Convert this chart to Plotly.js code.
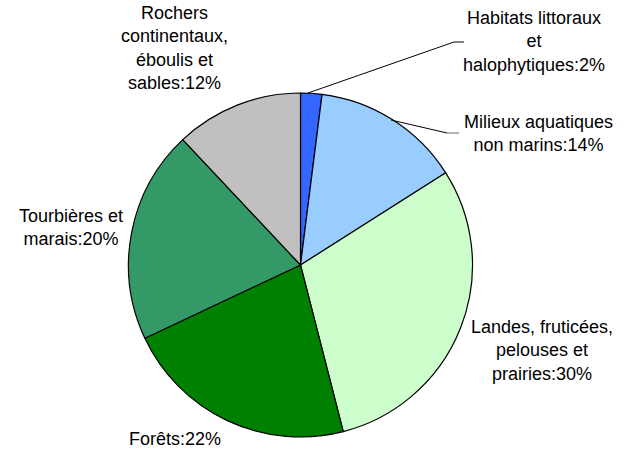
<!DOCTYPE html>
<html>
<head>
<meta charset="utf-8">
<script src="https://cdn.plot.ly/plotly-3.0.1.min.js"></script>
<style>html,body{margin:0;padding:0;background:#fff;}#chart{width:632px;height:450px;}</style>
</head>
<body>
<div id="chart"></div>
<script>
// Data
const categories = [
  "Habitats littoraux<br>et<br>halophytiques",
  "Milieux aquatiques<br>non marins",
  "Landes, fruticées,<br>pelouses et<br>prairies",
  "Forêts",
  "Tourbières et<br>marais",
  "Rochers<br>continentaux,<br>éboulis et<br>sables"
];
const values = [2, 14, 30, 22, 20, 12];
const colors = ["#3366FF", "#99CCFF", "#CCFFCC", "#008000", "#339966", "#C0C0C0"];

// Label placement (pixel centres)
const labelX = [534, 538, 542, 175, 71, 174];
const labelY = [41, 133, 350, 439, 227, 48];

const W = 632, H = 450;
const px = x => x / W;
const py = y => 1 - y / H;

const trace = {
  type: "pie",
  values: values,
  labels: categories.map(c => c.replace(/<br>/g, " ")),
  marker: { colors: colors, line: { color: "#000000", width: 1.2 } },
  sort: false,
  direction: "clockwise",
  rotation: 0,
  textinfo: "none",
  hoverinfo: "label+percent",
  showlegend: false,
  domain: { x: [px(128.5), px(472.5)], y: [py(437), py(93)] }
};

const font = { family: "Liberation Sans, Arial, sans-serif", size: 18, color: "#000000" };

const annotations = categories.map((c, i) => ({
  xref: "paper", yref: "paper",
  x: px(labelX[i]), y: py(labelY[i]),
  xanchor: "center", yanchor: "middle",
  text: c + ":" + values[i] + "%",
  showarrow: false,
  align: "center",
  font: font
}));

const shapes = [
  { type: "line", xref: "paper", yref: "paper", x0: px(308), y0: py(93), x1: px(454), y1: py(42), line: { color: "#000", width: 1 } },
  { type: "line", xref: "paper", yref: "paper", x0: px(454), y0: py(42), x1: px(464), y1: py(42), line: { color: "#000", width: 1 } },
  { type: "line", xref: "paper", yref: "paper", x0: px(391), y0: py(120), x1: px(447), y1: py(133), line: { color: "#000", width: 1 } },
  { type: "line", xref: "paper", yref: "paper", x0: px(447), y0: py(133), x1: px(459), y1: py(133), line: { color: "#666", width: 1 } }
];

const layout = {
  width: W, height: H,
  margin: { l: 0, r: 0, t: 0, b: 0 },
  paper_bgcolor: "#ffffff",
  plot_bgcolor: "#ffffff",
  font: font,
  annotations: annotations,
  shapes: shapes
};

Plotly.newPlot("chart", [trace], layout, { displayModeBar: false, staticPlot: true });
</script>
</body>
</html>
